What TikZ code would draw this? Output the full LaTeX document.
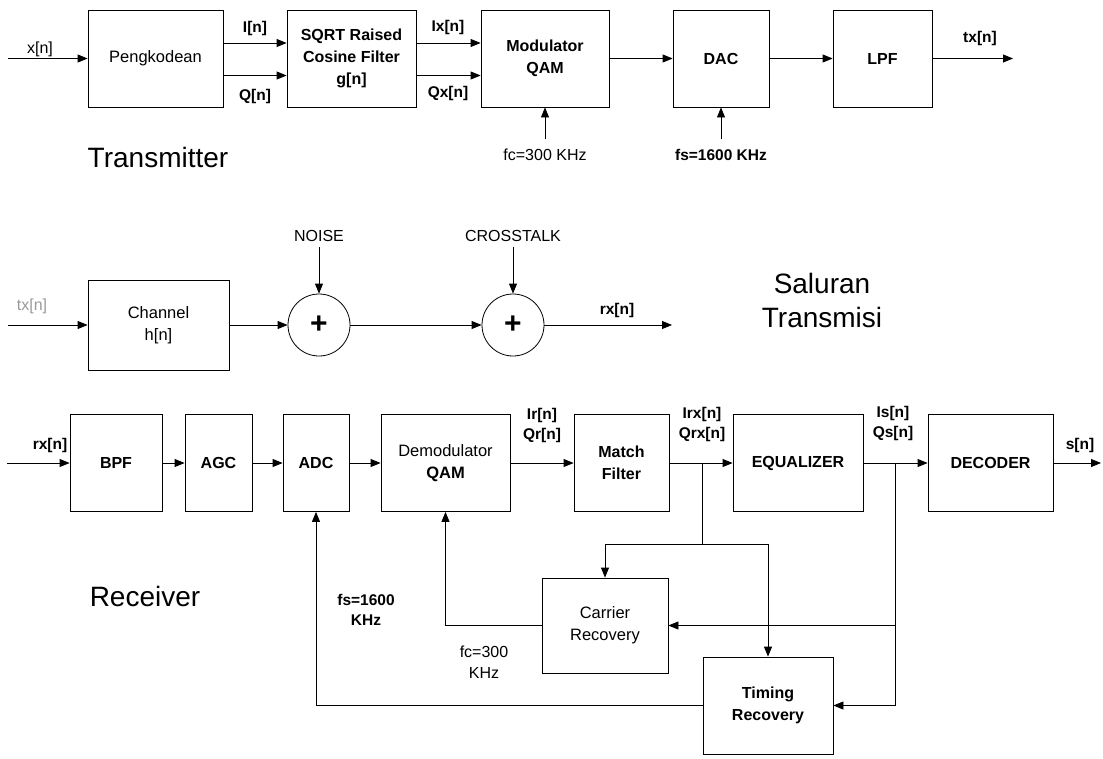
\documentclass[tikz,border=0pt]{standalone}
\usepackage{fontspec}
\setmainfont{Liberation Sans}
\usetikzlibrary{arrows.meta,calc}
\begin{document}
\begin{tikzpicture}[x=1pt,y=-1pt,
 blk/.style={draw, line width=0.8pt, inner sep=0pt, align=center, font=\fontsize{16}{22}\selectfont\bfseries},
 lightblk/.style={blk, font=\fontsize{16.5}{22}\selectfont},
 arr/.style={line width=0.8pt, -{Triangle[length=10pt,width=8pt]}},
 ln/.style={line width=0.8pt},
 lbl/.style={font=\fontsize{15.5}{20}\selectfont\bfseries, align=center, inner sep=0pt},
 lightlbl/.style={lbl, font=\fontsize{16}{21}\selectfont},
 head/.style={font=\fontsize{28}{34}\selectfont, align=center, inner sep=0pt},
 sum/.style={draw, circle, line width=0.8pt, minimum size=62pt, inner sep=0pt, font=\fontsize{30}{30}\selectfont\bfseries}
]
\useasboundingbox (0,0) rectangle (1103,758);

% ---------------- Transmitter ----------------
\node[lightblk, minimum width=135pt, minimum height=97pt] (peng) at (155.5,58.5) {Pengkodean};
\node[blk, minimum width=129pt, minimum height=97pt] (sqrt) at (351.5,58.5) {SQRT Raised\\Cosine Filter\\g[n]};
\node[blk, minimum width=128pt, minimum height=97pt] (mod) at (545,58.5) {Modulator\\QAM};
\node[blk, minimum width=96pt, minimum height=97pt] (dac) at (721,58.5) {DAC};
\node[blk, minimum width=99pt, minimum height=97pt] (lpf) at (882.5,58.5) {LPF};

\coordinate (xin) at (8,58.5);
\draw[arr] (xin) -- (peng.west);
\node[lightlbl] (xlab) at (40,49) {x[n]};

\draw[arr] ([yshift=15.5pt]peng.east) -- ([yshift=15.5pt]sqrt.west);
\draw[arr] ([yshift=-17pt]peng.east) -- ([yshift=-17pt]sqrt.west);
\node[lbl] (ilab) at (255,28) {I[n]};
\node[lbl] (qlab) at (255,96) {Q[n]};

\draw[arr] ([yshift=15.5pt]sqrt.east) -- ([yshift=15.5pt]mod.west);
\draw[arr] ([yshift=-17pt]sqrt.east) -- ([yshift=-17pt]mod.west);
\node[lbl] (ixlab) at (448,27) {Ix[n]};
\node[lbl] (qxlab) at (448,93) {Qx[n]};

\draw[arr] (mod) -- (dac);
\draw[arr] (dac) -- (lpf);
\coordinate (txout) at (1013,58.5);
\draw[arr] (lpf) -- (txout);
\node[lbl] (txlab) at (980,38) {tx[n]};

\coordinate (fcin) at (545,139);
\draw[arr] (fcin) -- (mod.south);
\node[lightlbl] (fclab) at (545,155) {fc=300 KHz};
\coordinate (fsin) at (721,139);
\draw[arr] (fsin) -- (dac.south);
\node[lbl] (fslab) at (721,155) {fs=1600 KHz};

\node[head] (txh) at (158,157) {Transmitter};

% ---------------- Channel ----------------
\node[lightblk, minimum width=141pt, minimum height=90pt] (chan) at (158.5,325) {Channel\\h[n]};
\node[sum] (s1) at (319,325) {+};
\node[sum] (s2) at (513,325) {+};
\node[lightlbl] (noise) at (319,236) {NOISE};
\node[lightlbl] (xtalk) at (513,236) {CROSSTALK};
\draw[arr, shorten <=5pt] (noise.south) -- (s1.north);
\draw[arr, shorten <=5pt] (xtalk.south) -- (s2.north);

\coordinate (chin) at (8,325);
\draw[arr] (chin) -- (chan.west);
\node[lightlbl, text=black!40] (chinlab) at (32,306) {tx[n]};
\draw[arr] (chan) -- (s1);
\draw[arr] (s1) -- (s2);
\coordinate (rxout) at (672,325);
\draw[arr] (s2) -- (rxout);
\node[lbl] (rxlab1) at (617,310) {rx[n]};

\node[head] (chh) at (822,300) {Saluran\\Transmisi};

% ---------------- Receiver ----------------
\node[blk, minimum width=92pt, minimum height=97pt] (bpf) at (116,463) {BPF};
\node[blk, minimum width=67pt, minimum height=97pt] (agc) at (218.5,463) {AGC};
\node[blk, minimum width=66pt, minimum height=97pt] (adc) at (316,463) {ADC};
\node[lightblk, minimum width=129pt, minimum height=97pt] (dem) at (445.5,463) {Demodulator\\\textbf{QAM}};
\node[blk, minimum width=95pt, minimum height=97pt] (mf) at (621.5,463) {Match\\Filter};
\node[blk, minimum width=130pt, minimum height=97pt] (eq) at (798,463) {EQUALIZER};
\node[blk, minimum width=125pt, minimum height=97pt] (dec) at (990.5,463) {DECODER};

\node[lightblk, minimum width=126pt, minimum height=95pt] (car) at (605,625.5) {Carrier\\Recovery};
\node[blk, minimum width=130pt, minimum height=97pt] (tim) at (768,705.5) {Timing\\Recovery};

\coordinate (rxin) at (7,463);
\draw[arr] (rxin) -- (bpf.west);
\node[lbl] (rxlab2) at (50,445) {rx[n]};
\draw[arr] (bpf) -- (agc);
\draw[arr] (agc) -- (adc);
\draw[arr] (adc) -- (dem);
\draw[arr] (dem) -- (mf);
\node[lbl] (irlab) at (542,425) {Ir[n]\\Qr[n]};
\draw[arr] (mf) -- (eq);
\node[lbl] (irxlab) at (702,424) {Irx[n]\\Qrx[n]};
\draw[arr] (eq) -- (dec);
\node[lbl] (islab) at (893,423) {Is[n]\\Qs[n]};
\coordinate (sout) at (1101,463);
\draw[arr] (dec) -- (sout);
\node[lbl] (slab) at (1080,445) {s[n]};

% feedback from matched filter output
\coordinate (b1) at (702,463);
\coordinate (b1d) at (702,544);
\draw[ln] (b1) -- (b1d);
\draw[arr] (b1d) -- (car.north |- b1d) -- (car.north);
\draw[arr] (b1d) -- (tim.north |- b1d) -- (tim.north);

% feedback from equalizer output
\coordinate (b2) at (895,463);
\draw[arr] (b2) -- (b2 |- tim.east) -- (tim.east);
\draw[arr] (b2 |- car.east) -- (car.east);

% loops back
\draw[arr] (car.west) -| (dem.south);
\draw[arr] (tim.west) -| (adc.south);
\node[lbl] (fslab2) at (366,610) {fs=1600\\KHz};
\node[lightlbl] (fclab2) at (484,662) {fc=300\\KHz};

\node[head] (rxh) at (145,596) {Receiver};
\end{tikzpicture}
\end{document}
